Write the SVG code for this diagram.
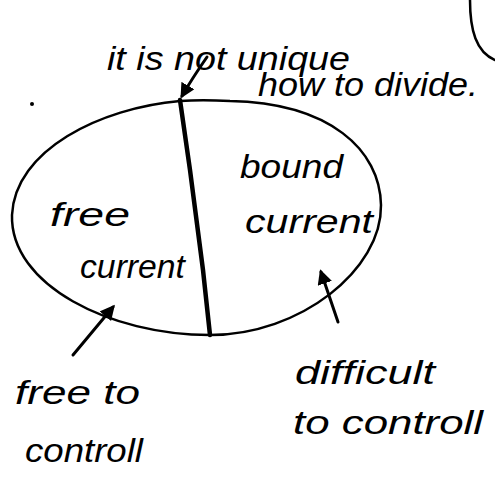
<svg xmlns="http://www.w3.org/2000/svg" width="495" height="486" viewBox="0 0 495 486">
<style>
.ink{fill:none;stroke:#000;stroke-linecap:round;stroke-linejoin:round}
.t{font-family:"Liberation Sans","DejaVu Sans",sans-serif;font-size:33px;fill:#000;font-style:italic}
</style>
<defs>
<marker id="ah" viewBox="0 0 10 10" refX="8" refY="5" markerWidth="5" markerHeight="5" orient="auto">
<path d="M0,0 L10,5 L0,10 Z" fill="#000"/>
</marker>
</defs>
<rect width="495" height="486" fill="#fff"/>
<g id="scribble">
<path class="ink" stroke-width="2.5" d="M470,0 C470,30 476,52 495,60"/>
<circle cx="32" cy="104" r="2" fill="#000"/>
</g>
<g id="current-region">
<path class="ink" stroke-width="2.5" d="M180,101 C100,108 15,150 12,215 C10,285 110,335 210,335 C300,335 382,270 381,205 C380,150 330,103 230,101 C210,100 195,100 180,101 Z"/>
<path class="ink" stroke-width="4.5" d="M180,100 L190,170 L203,270 L210,335"/>
</g>
<g id="free-current">
<text class="t" x="50" y="226" textLength="80" lengthAdjust="spacingAndGlyphs">free</text>
<text class="t" x="80" y="278" textLength="105" lengthAdjust="spacingAndGlyphs">current</text>
</g>
<g id="bound-current">
<text class="t" x="240" y="178" textLength="103" lengthAdjust="spacingAndGlyphs">bound</text>
<text class="t" x="245" y="233" textLength="128" lengthAdjust="spacingAndGlyphs">current</text>
</g>
<g id="note-not-unique">
<text class="t" x="107" y="70" textLength="243" lengthAdjust="spacingAndGlyphs">it is not unique</text>
<text class="t" x="258" y="96" textLength="220" lengthAdjust="spacingAndGlyphs">how to divide.</text>
</g>
<g id="note-free-to-control">
<text class="t" x="15" y="404" textLength="125" lengthAdjust="spacingAndGlyphs">free to</text>
<text class="t" x="25" y="462" textLength="118" lengthAdjust="spacingAndGlyphs">controll</text>
</g>
<g id="note-difficult">
<text class="t" x="295" y="384" textLength="140" lengthAdjust="spacingAndGlyphs">difficult</text>
<text class="t" x="293" y="434" textLength="190" lengthAdjust="spacingAndGlyphs">to controll</text>
</g>
<g id="connectors">
<path class="ink" stroke-width="3" d="M207,57 C198,70 190,82 182,96" marker-end="url(#ah)"/>
<path class="ink" stroke-width="3" d="M73,355 L113,307" marker-end="url(#ah)"/>
<path class="ink" stroke-width="3" d="M338,322 L321,272" marker-end="url(#ah)"/>
</g>
</svg>
